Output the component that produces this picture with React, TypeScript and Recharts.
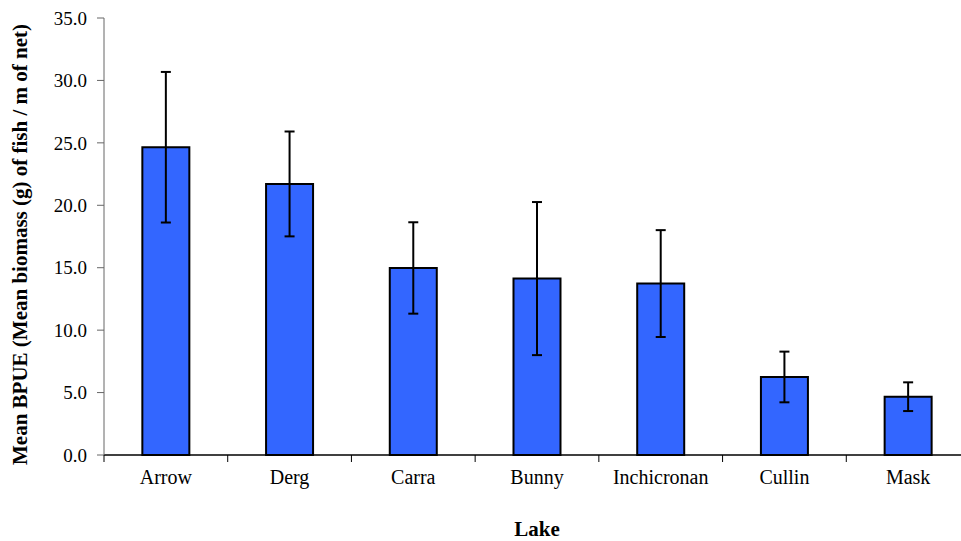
import { BarChart, Bar, XAxis, YAxis, ErrorBar, Label } from 'recharts';

const lakes = ['Arrow', 'Derg', 'Carra', 'Bunny', 'Inchicronan', 'Cullin', 'Mask'];
const meanBpue = [24.65, 21.71, 14.98, 14.13, 13.73, 6.25, 4.67];
const bpueError = [6.03, 4.2, 3.66, 6.13, 4.28, 2.03, 1.15];
const yTicks = [0, 5, 10, 15, 20, 25, 30, 35];

const FONT = '"Liberation Serif", "Times New Roman", serif';

const data = lakes.map((lake, i) => ({
  lake,
  bpue: meanBpue[i],
  err: bpueError[i],
}));

// Excel-style category axis: tick marks sit on the category boundaries
function LakeTick(props: any) {
  const { x, y, payload } = props;
  const edge = x - (payload.offset ?? 0);
  return (
    <g>
      <line x1={edge} y1={y} x2={edge} y2={y + 7} stroke="#000" strokeWidth={1} />
      <text x={x} y={y + 29} textAnchor="middle" fontFamily={FONT} fontSize={20} fill="#000">
        {payload.value}
      </text>
    </g>
  );
}

function YTitle(props: any) {
  const { viewBox } = props;
  const cx = 20;
  const cy = viewBox.y + viewBox.height / 2 + 8;
  return (
    <text
      x={cx}
      y={cy}
      transform={`rotate(-90, ${cx}, ${cy})`}
      textAnchor="middle"
      dominantBaseline="central"
      fontFamily={FONT}
      fontSize={21}
      fontWeight="bold"
      fill="#000"
    >
      Mean BPUE (Mean biomass (g) of fish / m of net)
    </text>
  );
}

export default function App() {
  return (
    <div
      style={{
        position: 'absolute',
        left: 0,
        top: 0,
        width: 961,
        height: 541,
        overflow: 'hidden',
        background: '#fff',
      }}
    >
      <BarChart
        width={980}
        height={541}
        data={data}
        margin={{ top: 18, right: 10, left: 0, bottom: 0 }}
        barCategoryGap="31%"
      >
        <XAxis
          dataKey="lake"
          height={86}
          axisLine={{ stroke: '#000', strokeWidth: 1.5 }}
          tickLine={false}
          tickSize={0}
          tickMargin={0}
          tick={<LakeTick />}
          interval={0}
        >
          <Label
            value="Lake"
            position="insideBottom"
            offset={5}
            style={{ fontFamily: FONT, fontSize: 21, fontWeight: 'bold', fill: '#000' }}
          />
        </XAxis>
        <YAxis
          width={104}
          domain={[0, 35]}
          ticks={yTicks}
          interval={0}
          tickFormatter={(v: number) => v.toFixed(1)}
          axisLine={{ stroke: '#666' }}
          tickLine={{ stroke: '#666' }}
          tickSize={7}
          tickMargin={10}
          tick={{ fontFamily: FONT, fontSize: 19, fill: '#000' }}
        >
          <Label content={<YTitle />} />
        </YAxis>
        <Bar dataKey="bpue" fill="#3366FF" stroke="#000" strokeWidth={2} isAnimationActive={false}>
          <ErrorBar dataKey="err" width={5} stroke="#000" strokeWidth={2} direction="y" />
        </Bar>
      </BarChart>
    </div>
  );
}
